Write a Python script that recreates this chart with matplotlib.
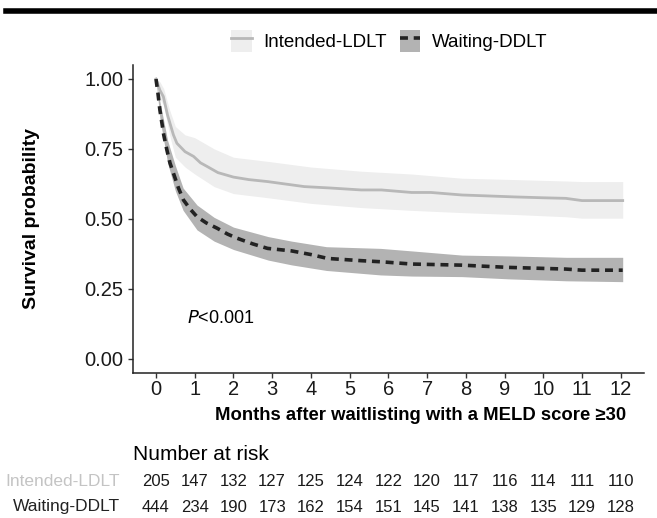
import numpy as np
import matplotlib
matplotlib.use('Agg')
import matplotlib.pyplot as plt
from matplotlib.lines import Line2D
from matplotlib.patches import Patch

plt.rcParams['font.family'] = ['Liberation Sans', 'DejaVu Sans']

# Intended-LDLT: Kaplan-Meier estimate and 95% band
ldlt_t = [0, 0.05, 0.1, 0.19, 0.3, 0.36, 0.45, 0.54, 0.75, 0.97, 1.15, 1.32, 1.6, 2.0, 2.4, 2.88,
          3.3, 3.83, 4.5, 5.3, 5.82, 6.6, 7.1, 7.9, 8.5, 9.28, 10.0, 10.58, 11.0, 12.05]
ldlt_s = [1.0, 0.98, 0.96, 0.937, 0.87, 0.842, 0.80, 0.77, 0.74, 0.723, 0.70, 0.687, 0.665, 0.649, 0.64, 0.633,
          0.625, 0.615, 0.61, 0.603, 0.603, 0.594, 0.594, 0.585, 0.582, 0.578, 0.575, 0.573, 0.565, 0.565]
ldlt_band_t = [0, 0.1, 0.2, 0.35, 0.5, 0.75, 1.0, 1.5, 2.0, 2.9, 4.0, 5.3, 6.6, 7.9, 9.3, 10.6, 11.0, 12.05]
ldlt_lo = [1.0, 0.93, 0.905, 0.80, 0.72, 0.685, 0.66, 0.615, 0.59, 0.575, 0.555, 0.54, 0.53, 0.522, 0.515, 0.507,
           0.502, 0.502]
ldlt_hi = [1.0, 0.99, 0.965, 0.89, 0.83, 0.80, 0.79, 0.75, 0.72, 0.705, 0.685, 0.67, 0.66, 0.645, 0.64, 0.635,
           0.633, 0.633]

# Waiting-DDLT
ddlt_t = [0, 0.05, 0.1, 0.2, 0.28, 0.36, 0.45, 0.58, 0.71, 0.88, 1.06, 1.3, 1.58, 1.85, 2.1, 2.5,
          2.88, 3.5, 4.0, 4.43, 5.3, 5.82, 6.6, 7.9, 9.1, 10.58, 11.0, 12.05]
ddlt_s = [1.0, 0.95, 0.89, 0.80, 0.747, 0.70, 0.663, 0.61, 0.567, 0.535, 0.507, 0.485, 0.466, 0.445, 0.43, 0.41,
          0.394, 0.385, 0.372, 0.358, 0.35, 0.346, 0.338, 0.334, 0.326, 0.32, 0.316, 0.316]
ddlt_band_t = [0, 0.1, 0.3, 0.5, 0.7, 1.06, 1.5, 2.0, 2.9, 3.5, 4.4, 5.8, 6.6, 7.9, 9.1, 10.6, 12.05]
ddlt_lo = [1.0, 0.86, 0.70, 0.60, 0.53, 0.46, 0.42, 0.39, 0.352, 0.335, 0.315, 0.299, 0.295, 0.293, 0.285, 0.278, 0.275]
ddlt_hi = [1.0, 0.92, 0.78, 0.69, 0.61, 0.549, 0.505, 0.47, 0.436, 0.42, 0.40, 0.394, 0.385, 0.37, 0.367, 0.362, 0.362]

# number at risk table
months = list(range(13))
risk_ldlt = [205, 147, 132, 127, 125, 124, 122, 120, 117, 116, 114, 111, 110]
risk_ddlt = [444, 234, 190, 173, 162, 154, 151, 145, 141, 138, 135, 129, 128]

W, H = 657, 518
DASH = (0, (2.2, 1.6))


def draw_curves(ax):
    ax.fill_between(ldlt_band_t, ldlt_lo, ldlt_hi, color='#eeeeee', lw=0)
    ax.fill_between(ddlt_band_t, ddlt_lo, ddlt_hi, color='#b3b3b3', lw=0)
    ax.plot(ldlt_t, ldlt_s, color='#b8b8b8', lw=2)
    ax.plot(ddlt_t, ddlt_s, color='#222222', lw=2.6, ls=DASH)


def main():
    fig = plt.figure(figsize=(W / 100, H / 100), dpi=100)
    left, right, bottom, top = 132.75, 644, 372.5, 65
    ax = fig.add_axes([left / W, 1 - bottom / H, (right - left) / W, (bottom - top) / H])

    draw_curves(ax)
    ax.set_xlim(-0.6, 12.6)
    ax.set_ylim(-0.05, 1.05)
    ax.set_xticks(months)
    ax.set_yticks([0, 0.25, 0.5, 0.75, 1.0])
    ax.set_yticklabels(['0.00', '0.25', '0.50', '0.75', '1.00'])
    ax.tick_params(labelsize=14.5, length=3.5, width=1, colors='#333333', labelcolor='#1a1a1a', pad=3)
    ax.tick_params(axis='x', pad=2)
    for s in ['top', 'right']:
        ax.spines[s].set_visible(False)
    for s in ['left', 'bottom']:
        ax.spines[s].set_linewidth(1.1)
        ax.spines[s].set_color('#222222')

    ax.set_ylabel('Survival probability', fontsize=14, fontweight='bold')
    ax.yaxis.set_label_coords((40 - left) / (right - left), 0.5)
    ax.set_xlabel('Months after waitlisting with a MELD score \u226530', fontsize=13.3, fontweight='bold')
    ax.xaxis.set_label_coords((421 - left) / (right - left), -(407 - bottom) / (bottom - top))

    ax.text(0.8, 0.144, r'$P$<0.001', fontsize=13, va='center', ha='left')

    # legend
    h1 = (Patch(facecolor='#eeeeee', edgecolor='none'), Line2D([], [], color='#b8b8b8', lw=2))
    h2 = (Patch(facecolor='#b3b3b3', edgecolor='none'), Line2D([], [], color='#222222', lw=2.6, ls=DASH))
    fig.legend([h1, h2], ['Intended-LDLT', 'Waiting-DDLT'], loc='center', bbox_to_anchor=(389 / W, 1 - 41 / H),
               ncol=2, frameon=False, fontsize=13.5, handlelength=1.1, handleheight=1.5,
               columnspacing=0.7, handletextpad=0.6)

    # thick rule at top
    fig.add_artist(Line2D([6 / W, 1], [1 - 11 / H, 1 - 11 / H], color='black', lw=4))

    # risk table
    to_fig = lambda x: (left + (x + 0.6) / 13.2 * (right - left)) / W
    fig.text(left / W, 1 - 455 / H, 'Number at risk', fontsize=15, va='center', ha='left')
    fig.text(120 / W, 1 - 482 / H, 'Intended-LDLT', fontsize=12.5, color='#c4c4c4', va='center', ha='right')
    fig.text(120 / W, 1 - 507 / H, 'Waiting-DDLT', fontsize=12.5, color='#222222', va='center', ha='right')
    for m, a, b in zip(months, risk_ldlt, risk_ddlt):
        fig.text(to_fig(m), 1 - 482 / H, str(a), fontsize=12, color='#1a1a1a', va='center', ha='center')
        fig.text(to_fig(m), 1 - 507 / H, str(b), fontsize=12, color='#1a1a1a', va='center', ha='center')

    fig.savefig('out.png', dpi=100)


if __name__ == "__main__":
    main()
